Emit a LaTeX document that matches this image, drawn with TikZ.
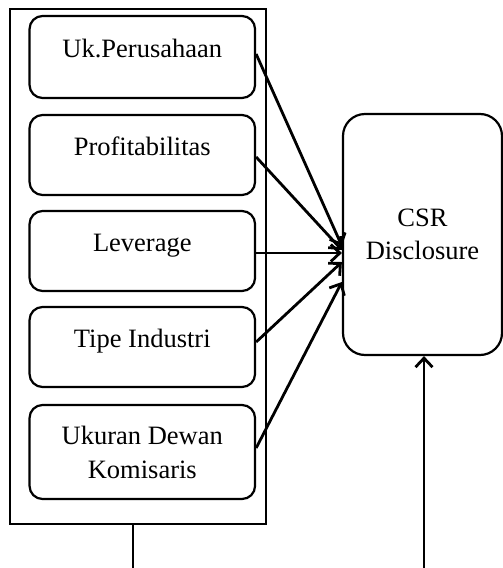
\documentclass[tikz,border=0pt]{standalone}
\usepackage{fontspec}
\setmainfont{Liberation Serif}
\usetikzlibrary{arrows.meta}
\begin{document}
\begin{tikzpicture}[x=1pt,y=-1pt,
  every node/.style={font=\fontsize{26.5}{34}\selectfont},
  frame/.style={draw,line width=2.2pt,minimum width=256pt,minimum height=515pt,inner sep=0pt},
  varbox/.style={draw,line width=2.2pt,rounded corners=13pt,minimum width=225.5pt,inner sep=0pt,align=center},
  onel/.style={text height=18pt,text depth=18pt},
  csrbox/.style={draw,line width=2.2pt,rounded corners=22pt,minimum width=159pt,minimum height=241pt,inner sep=0pt,align=center,font=\fontsize{26.5}{33}\selectfont},
  link/.style={line width=2.8pt,-{Straight Barb[length=9pt,width=17pt,line width=2.8pt]}}]
\useasboundingbox (0,0) rectangle (503,568);
\node[frame] (outer) at (138,266.5) {};
\node[varbox,onel,minimum height=82pt] (b1) at (142.3,57) {Uk.Perusahaan};
\node[varbox,onel,minimum height=80pt] (b2) at (142.3,155) {Profitabilitas};
\node[varbox,onel,minimum height=80pt] (b3) at (142.3,251) {Leverage};
\node[varbox,onel,minimum height=80pt] (b4) at (142.3,347) {Tipe Industri};
\node[varbox,minimum height=94pt] (b5) at (142.3,452) {Ukuran Dewan\\Komisaris};
\node[csrbox] (csr) at (422.5,234.5) {CSR\\Disclosure};
\coordinate (ba) at ([xshift=-5pt]outer.south);
\coordinate (low) at (133,569);
\draw[link] ([yshift=3pt]b1.east) -- ([yshift=-11.5pt]csr.west);
\draw[link] ([yshift=-2pt]b2.east) -- ([yshift=-15.5pt]csr.west);
\draw[link] ([yshift=-2pt]b3.east) -- ([yshift=-18.5pt]csr.west);
\draw[link] ([yshift=5pt]b4.east) -- ([yshift=-27.5pt]csr.west);
\draw[link] ([yshift=4pt]b5.east) -- ([yshift=-47.5pt]csr.west);
\draw[link] (ba) -- (low) -| ([xshift=1.5pt]csr.south);
\end{tikzpicture}
\end{document}
